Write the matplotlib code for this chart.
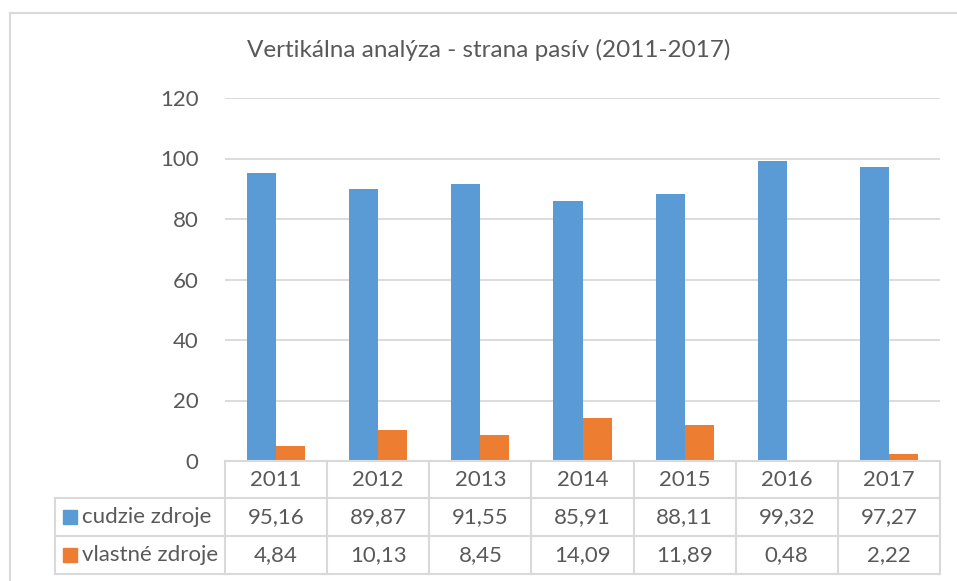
import matplotlib

matplotlib.use("Agg")
import matplotlib.pyplot as plt
from matplotlib.lines import Line2D
from matplotlib.patches import Rectangle
from matplotlib.transforms import blended_transform_factory

years = ["2011", "2012", "2013", "2014", "2015", "2016", "2017"]
cudzie = [95.16, 89.87, 91.55, 85.91, 88.11, 99.32, 97.27]
vlastne = [4.84, 10.13, 8.45, 14.09, 11.89, 0.48, 2.22]
series_names = ["cudzie zdroje", "vlastné zdroje"]
y_ticks = [0, 20, 40, 60, 80, 100, 120]
title = "Vertikálna analýza - strana pasív (2011-2017)"

BLUE = "#5B9BD5"
ORANGE = "#ED7D31"
GRID = "#D9D9D9"
TXT = "#595959"
FS = 16

plt.rcParams["font.family"] = ["Lato", "DejaVu Sans"]

W, H = 957, 581
fig = plt.figure(figsize=(W / 100, H / 100), dpi=100)


def fx(px):
    return px / W


def fy(py):
    return 1 - py / H


# plot area in pixel terms: x 225..940, y(0)=461, y(120)=98
ax = fig.add_axes([fx(225), fy(461), fx(940) - fx(225), fy(98) - fy(461)])
x = list(range(len(years)))
bw = 0.285
ax.bar([i - bw / 2 for i in x], cudzie, width=bw, color=BLUE, zorder=3)
ax.bar([i + bw / 2 for i in x], vlastne, width=bw, color=ORANGE, zorder=3)
ax.set_xlim(-0.5, len(years) - 0.5)
ax.set_ylim(0, 120)
ax.set_yticks(y_ticks)
ax.set_yticklabels([str(v) for v in y_ticks], fontsize=FS, color=TXT)
ax.tick_params(axis="y", length=0, pad=19)
ax.set_xticks([])
for s in ax.spines.values():
    s.set_visible(False)
ax.grid(axis="y", color=GRID, lw=1.3, zorder=0)

fig.text(fx(489), fy(50), title, ha="center", va="center", fontsize=17.5, color=TXT)

# data table under the plot
tr = blended_transform_factory(ax.transData, fig.transFigure)
row_y = [461, 498, 536, 574]
lw = 1.5
for i in range(len(years) + 1):
    fig.add_artist(Line2D([i - 0.5, i - 0.5], [fy(row_y[0]), fy(row_y[-1])],
                          transform=tr, color=GRID, lw=lw))
for yy in row_y:
    fig.add_artist(Line2D([-0.5, len(years) - 0.5], [fy(yy), fy(yy)],
                          transform=tr, color=GRID, lw=lw))
for yy in row_y[1:]:
    fig.add_artist(Line2D([fx(55), fx(225)], [fy(yy), fy(yy)],
                          transform=fig.transFigure, color=GRID, lw=lw))
fig.add_artist(Line2D([fx(55), fx(55)], [fy(row_y[1]), fy(row_y[-1])],
                      transform=fig.transFigure, color=GRID, lw=lw))


def fmt(v):
    return f"{v:.2f}".replace(".", ",")


for i, yr in enumerate(years):
    fig.text(i, fy((row_y[0] + row_y[1]) / 2), yr, transform=tr,
             ha="center", va="center", fontsize=FS, color=TXT)
    fig.text(i, fy((row_y[1] + row_y[2]) / 2), fmt(cudzie[i]), transform=tr,
             ha="center", va="center", fontsize=FS, color=TXT)
    fig.text(i, fy((row_y[2] + row_y[3]) / 2), fmt(vlastne[i]), transform=tr,
             ha="center", va="center", fontsize=FS, color=TXT)

for k, (name, col) in enumerate(zip(series_names, [BLUE, ORANGE])):
    yc = (row_y[k + 1] + row_y[k + 2]) / 2
    fig.add_artist(Rectangle((fx(63), fy(yc + 7)), fx(14), fy(yc - 7) - fy(yc + 7),
                             transform=fig.transFigure, color=col))
    fig.text(fx(82), fy(yc), name, ha="left", va="center", fontsize=FS, color=TXT)

# outer chart border
fig.add_artist(Line2D([fx(10), fx(10)], [fy(13), 0], transform=fig.transFigure, color=GRID, lw=1.5))
fig.add_artist(Line2D([fx(10), 1], [fy(13), fy(13)], transform=fig.transFigure, color=GRID, lw=1.5))

fig.savefig("out.png", dpi=100)
